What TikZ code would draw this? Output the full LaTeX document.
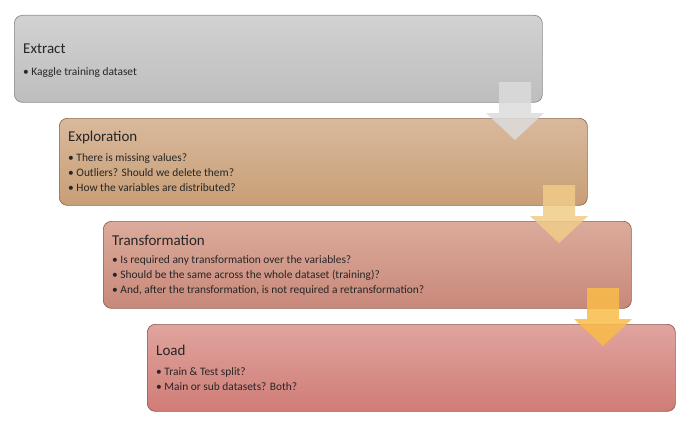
\documentclass[tikz,border=0pt]{standalone}
\usepackage{fontspec}
\setmainfont{Carlito}
\definecolor{extractTop}{HTML}{D2D2D2}
\definecolor{extractBot}{HTML}{BDBDBD}
\definecolor{extractLine}{HTML}{8C8C8C}
\definecolor{exploreTop}{HTML}{D9B99C}
\definecolor{exploreBot}{HTML}{C89E76}
\definecolor{exploreLine}{HTML}{8B6A50}
\definecolor{transTop}{HTML}{DCAB9B}
\definecolor{transBot}{HTML}{C8887A}
\definecolor{transLine}{HTML}{8C6058}
\definecolor{loadTop}{HTML}{E0A49E}
\definecolor{loadBot}{HTML}{D07C76}
\definecolor{loadLine}{HTML}{905A56}
\definecolor{arrowGray}{HTML}{DCDCDC}
\definecolor{arrowSand}{HTML}{F0CC88}
\definecolor{arrowAmber}{HTML}{F9BC48}
\definecolor{ink}{HTML}{262626}
\begin{document}
\begin{tikzpicture}[x=1pt,y=-1pt,
  stage/.style={rounded corners=8pt, line width=0.7pt, minimum width=528pt,
    minimum height=87pt, anchor=north west, inner sep=0pt},
  heading/.style={anchor=base west, inner sep=0pt, text=ink,
    font=\fontsize{15}{17}\selectfont},
  items/.style={anchor=north west, inner sep=0pt, align=left, text=ink,
    font=\fontsize{11.4}{15}\selectfont},
  blockarrow/.style={fill=#1, fill opacity=0.85, draw=none}]
\useasboundingbox (0,0) rectangle (688,428);

% the four stages
\node[stage, draw=extractLine, top color=extractTop, bottom color=extractBot] (extract) at (14,15) {};
\node[stage, draw=exploreLine, top color=exploreTop, bottom color=exploreBot] (explore) at (59,118) {};
\node[stage, draw=transLine, top color=transTop, bottom color=transBot] (transform) at (103,221) {};
\node[stage, draw=loadLine, top color=loadTop, bottom color=loadBot] (load) at (147,324) {};

% texts
\node[heading] (extractT) at (23,54) {Extract};
\node[items] (extractL) at (23,67.5) {• Kaggle training dataset};

\node[heading] (exploreT) at (68,141) {Exploration};
\node[items] (exploreL) at (68,153.5) {• There is missing values?\\• Outliers? Should we delete them?\\• How the variables are distributed?};

\node[heading] (transformT) at (112,245) {Transformation};
\node[items] (transformL) at (112,255.5) {• Is required any transformation over the variables?\\• Should be the same across the whole dataset (training)?\\• And, after the transformation, is not required a retransformation?};

\node[heading] (loadT) at (156,355) {Load};
\node[items] (loadL) at (156,367.5) {• Train \& Test split?\\• Main or sub datasets? Both?};

% block arrows between the stages
\foreach \cx/\cy/\col [count=\i] in {515/82/arrowGray, 559/185/arrowSand, 603/288/arrowAmber}{
  \coordinate (a\i) at (\cx,\cy);
  \fill[blockarrow=\col] (a\i) ++(-16,0) -- ++(32,0) -- ++(0,31) -- ++(13,0)
    -- ++(-29,27) -- ++(-29,-27) -- ++(13,0) -- cycle;
}
\end{tikzpicture}
\end{document}
